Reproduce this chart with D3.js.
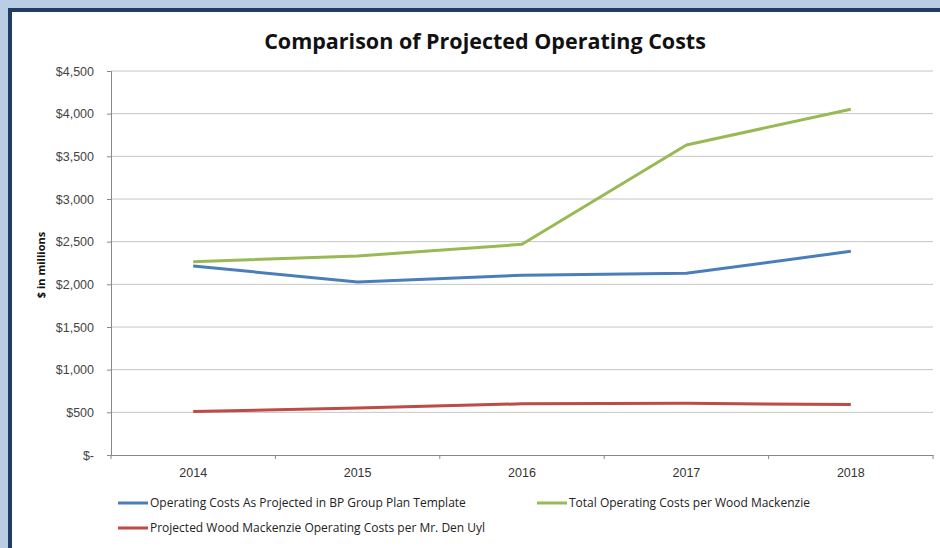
<!DOCTYPE html>
<html lang="en">
<head>
<meta charset="UTF-8">
<title>Comparison of Projected Operating Costs</title>
<script src="https://d3js.org/d3.v7.min.js"></script>
<style>
  body { margin: 0; background: #b9cde5; }
  svg { display: block; font-family: "Open Sans", "Liberation Sans", sans-serif; }
</style>
</head>
<body>
<script>
// chart data
var years = ['2014', '2015', '2016', '2017', '2018'];
var bpTemplate = [2215, 2027, 2106, 2129, 2387];
var woodMackTotal = [2265, 2332, 2469, 3633, 4051];
var denUyl = [510, 550, 600, 605, 592];
var yTicks = [0, 500, 1000, 1500, 2000, 2500, 3000, 3500, 4000, 4500];

var seriesNames = [
  'Operating Costs As Projected in BP Group Plan Template',
  'Total Operating Costs per Wood Mackenzie',
  'Projected Wood Mackenzie Operating Costs per Mr. Den Uyl'
];
var seriesColors = ['#4a7ebb', '#98b954', '#be4b48'];
var seriesData = [bpTemplate, woodMackTotal, denUyl];

var width = 940, height = 548;

var svg = d3.select('body').append('svg')
  .attr('width', width)
  .attr('height', height);

// frame
svg.append('rect')
  .attr('x', 10).attr('y', 10)
  .attr('width', width).attr('height', height)
  .attr('fill', '#fff')
  .attr('stroke', '#1f3d66')
  .attr('stroke-width', 4);

var plot = { left: 111, right: 933, top: 71, bottom: 455 };

var x = d3.scaleBand()
  .domain(years)
  .range([plot.left, plot.right]);

var y = d3.scaleLinear()
  .domain([0, 4500])
  .range([plot.bottom, plot.top]);

// gridlines
svg.append('g')
  .selectAll('line')
  .data(yTicks.slice(1))
  .join('line')
  .attr('x1', plot.left).attr('x2', plot.right)
  .attr('y1', d => y(d)).attr('y2', d => y(d))
  .attr('stroke', '#c4c4c4')
  .attr('stroke-width', 1);

// y axis
var yAxis = d3.axisLeft(y)
  .tickValues(yTicks)
  .tickSize(4)
  .tickPadding(13)
  .tickFormat(d => d === 0 ? '$-' : '$' + d3.format(',')(d));

var gy = svg.append('g')
  .attr('transform', 'translate(' + plot.left + ',0)')
  .call(yAxis);
gy.select('.domain').attr('stroke', '#888');
gy.selectAll('.tick line').attr('stroke', '#888');
gy.selectAll('.tick text')
  .attr('fill', '#444')
  .style('font-size', '12.5px');

// x axis, ticks on band boundaries
var xAxis = d3.axisBottom(x).tickSize(0).tickPadding(13);
var gx = svg.append('g')
  .attr('transform', 'translate(0,' + plot.bottom + ')')
  .call(xAxis);
gx.select('.domain').attr('stroke', '#888');
gx.selectAll('.tick text')
  .attr('fill', '#333')
  .style('font-size', '12.5px');
gx.selectAll('.sep')
  .data(years.concat(['end']))
  .join('line')
  .attr('x1', (d, i) => plot.left + i * x.bandwidth())
  .attr('x2', (d, i) => plot.left + i * x.bandwidth())
  .attr('y1', 0).attr('y2', 4)
  .attr('stroke', '#888');

// lines
var line = d3.line()
  .x((d, i) => x(years[i]) + x.bandwidth() / 2)
  .y(d => y(d));

svg.append('g')
  .selectAll('path')
  .data(seriesData)
  .join('path')
  .attr('d', line)
  .attr('fill', 'none')
  .attr('stroke', (d, i) => seriesColors[i])
  .attr('stroke-width', 3)
  .attr('stroke-linejoin', 'round');

// title
svg.append('text')
  .attr('x', 485).attr('y', 49)
  .attr('text-anchor', 'middle')
  .style('font-size', '21.5px')
  .style('font-weight', 'bold')
  .attr('fill', '#111')
  .text('Comparison of Projected Operating Costs');

// y axis title
svg.append('text')
  .attr('transform', 'translate(45,265) rotate(-90)')
  .attr('text-anchor', 'middle')
  .style('font-size', '11px')
  .style('font-weight', 'bold')
  .attr('fill', '#111')
  .text('$ in millions');

// legend
var legendPos = [[118, 503], [537, 503], [118, 528]];
var legend = svg.append('g')
  .selectAll('g')
  .data(seriesNames)
  .join('g')
  .attr('transform', (d, i) => 'translate(' + legendPos[i][0] + ',' + legendPos[i][1] + ')');

legend.append('line')
  .attr('x1', 0).attr('x2', 30)
  .attr('stroke', (d, i) => seriesColors[i])
  .attr('stroke-width', 3);

legend.append('text')
  .attr('x', 32).attr('dy', '0.35em')
  .style('font-size', '12px')
  .attr('fill', '#222')
  .text(d => d);
</script>
</body>
</html>
